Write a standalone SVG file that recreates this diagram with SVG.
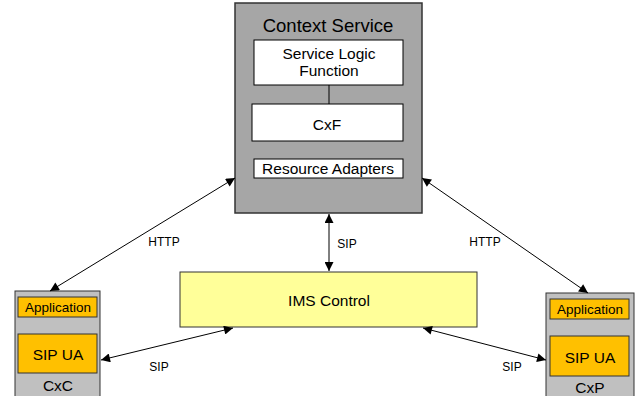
<svg xmlns="http://www.w3.org/2000/svg" width="641" height="396" viewBox="0 0 641 396">
  <style>
    text { font-family: "Liberation Sans", Arial, sans-serif; fill: #000; text-anchor: middle; }
    .box { fill: #fff; stroke: #000; stroke-width: 1; }
    .outer { fill: #a6a6a6; stroke: #333; stroke-width: 1.5; }
    .client { fill: #c0c0c0; stroke: #333; stroke-width: 1; }
    .orange { fill: #ffc000; stroke: #333; stroke-width: 1; }
    .ims { fill: #ffff99; stroke: #333; stroke-width: 1; }
    .conn { stroke: #000; stroke-width: 1; fill: none; marker-start: url(#arrow); marker-end: url(#arrow); }
    .lbl { font-size: 12px; }
  </style>
  <defs>
    <marker id="arrow" viewBox="0 0 10 10" refX="10" refY="5" markerWidth="12" markerHeight="9" markerUnits="userSpaceOnUse" orient="auto-start-reverse">
      <path d="M0,0 L10,5 L0,10 z" fill="#000"/>
    </marker>
  </defs>

  <g id="context-service">
    <rect class="outer" x="235" y="3" width="187" height="210"/>
    <text x="328" y="32" font-size="18.5">Context Service</text>
  </g>
  <g id="service-logic">
    <rect class="box" x="254" y="40" width="149" height="45"/>
    <text x="329" y="59" font-size="15.5">Service Logic</text>
    <text x="329" y="76" font-size="15.5">Function</text>
  </g>
  <g id="cxf">
    <rect class="box" x="252" y="104" width="151" height="37"/>
    <text x="327" y="130" font-size="15.5">CxF</text>
  </g>
  <g id="resource-adapters">
    <rect class="box" x="254" y="159" width="149" height="19"/>
    <text x="328" y="174" font-size="15.5">Resource Adapters</text>
  </g>

  <g id="ims-control">
    <rect class="ims" x="180" y="272" width="297" height="55"/>
    <text x="329" y="306" font-size="15.5">IMS Control</text>
  </g>

  <g id="cxc">
    <rect class="client" x="15" y="291" width="85" height="110"/>
    <rect class="orange" x="18" y="297" width="79" height="20"/>
    <text x="58" y="312" font-size="13.5">Application</text>
    <rect class="orange" x="18" y="334" width="79" height="39"/>
    <text x="58" y="360" font-size="15.5">SIP UA</text>
    <text x="58" y="391" font-size="15.5">CxC</text>
  </g>

  <g id="cxp">
    <rect class="client" x="546" y="293" width="88" height="110"/>
    <rect class="orange" x="550" y="299" width="79" height="20"/>
    <text x="590" y="314" font-size="13.5">Application</text>
    <rect class="orange" x="550" y="336" width="79" height="40"/>
    <text x="590" y="363" font-size="15.5">SIP UA</text>
    <text x="590" y="393" font-size="15.5">CxP</text>
  </g>

  <g id="connectors">
    <line x1="329" y1="85" x2="329" y2="104" stroke="#000" stroke-width="1"/>
    <line class="conn" x1="329" y1="214" x2="329" y2="271"/>
    <line class="conn" x1="235" y1="178" x2="50" y2="291"/>
    <line class="conn" x1="422" y1="178" x2="588" y2="293"/>
    <line class="conn" x1="233" y1="328" x2="101" y2="360"/>
    <line class="conn" x1="423" y1="328" x2="546" y2="360"/>
    <text class="lbl" x="347" y="248" font-size="13">SIP</text>
    <text class="lbl" x="164" y="246" font-size="13">HTTP</text>
    <text class="lbl" x="485" y="246" font-size="13">HTTP</text>
    <text class="lbl" x="159" y="371" font-size="13">SIP</text>
    <text class="lbl" x="512" y="371" font-size="13">SIP</text>
  </g>
</svg>
